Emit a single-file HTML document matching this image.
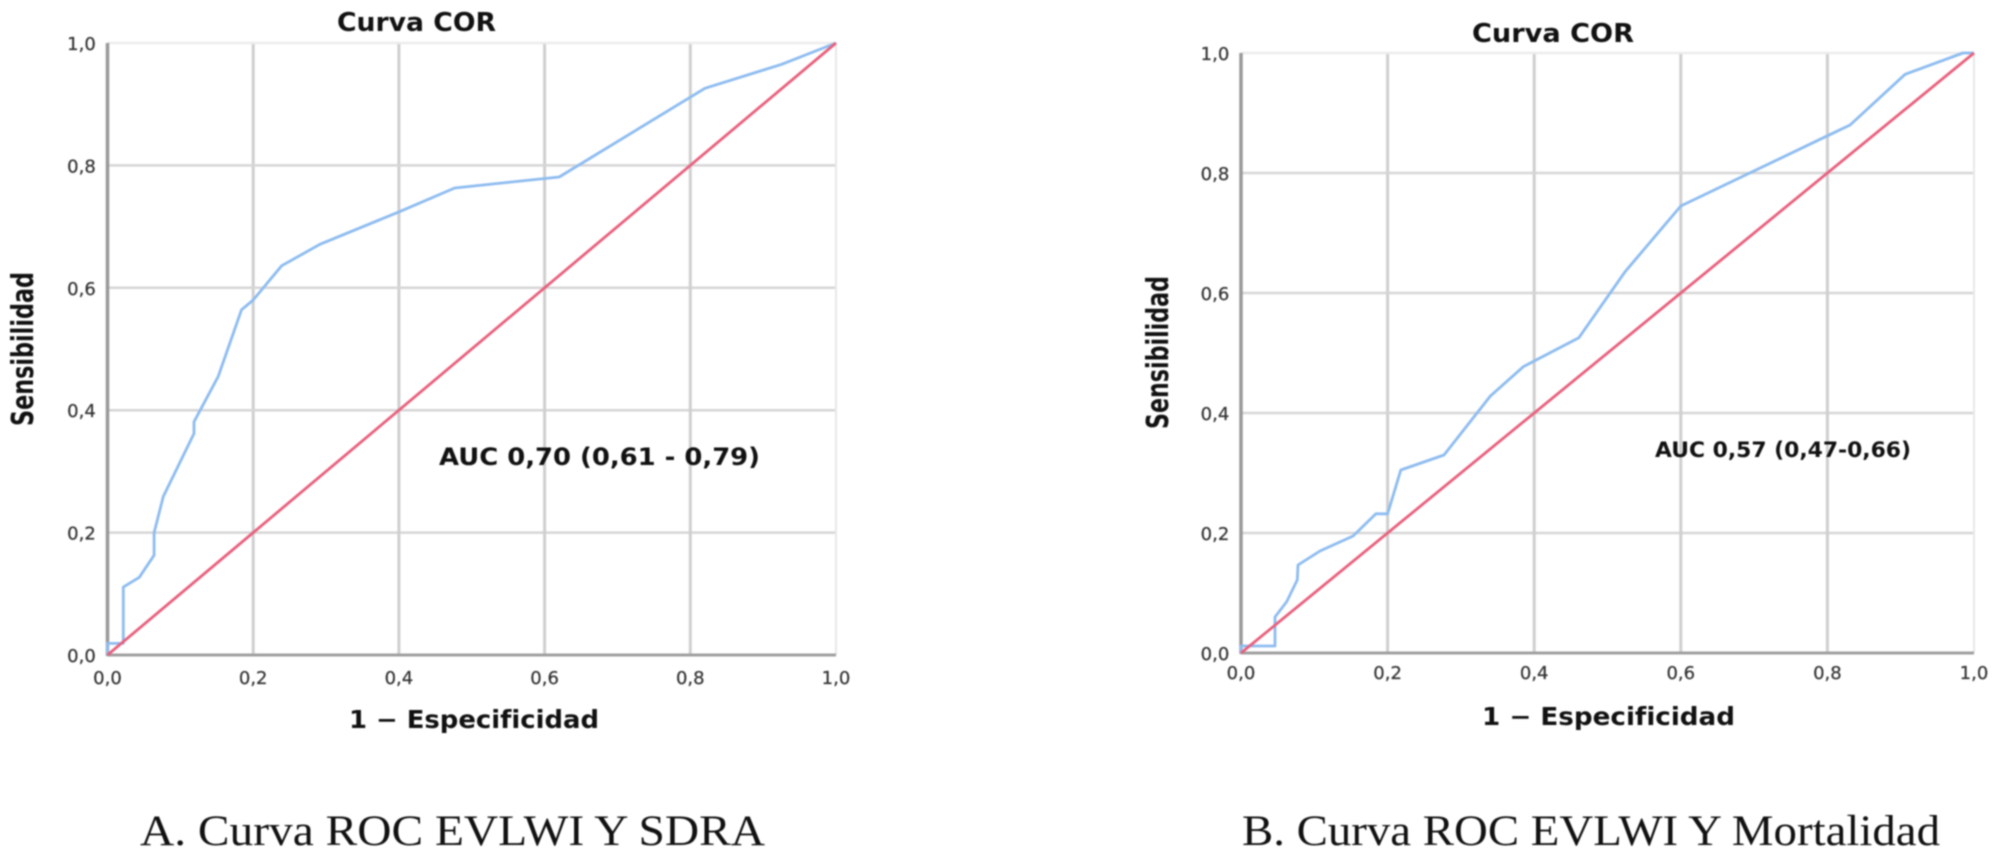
<!DOCTYPE html>
<html lang="es">
<head>
<meta charset="utf-8">
<title>Curvas ROC EVLWI</title>
<style>
  html, body { margin: 0; padding: 0; background: #fff; }
  body { width: 2000px; height: 857px; overflow: hidden; }
  #figure { display: block; filter: blur(0.7px); }
  .title, .axis-title, .auc { font-family: "DejaVu Sans", sans-serif; font-weight: bold; fill: #111; }
  .tick { font-family: "DejaVu Sans", sans-serif; fill: #333; text-anchor: middle; font-size: 18px; stroke: #333; stroke-width: 0.25px; }
  .caption { font-family: "Liberation Serif", serif; fill: #111; font-size: 43px; }
</style>
</head>
<body>
<svg id="figure" xmlns="http://www.w3.org/2000/svg" width="2000" height="857" viewBox="0 0 2000 857">
  <g id="chart-a"></g>
  <g id="chart-b"></g>

  <text class="title" x="337" y="31" font-size="26" textLength="159" lengthAdjust="spacingAndGlyphs">Curva COR</text>
  <text class="title" x="1472" y="42" font-size="26" textLength="162" lengthAdjust="spacingAndGlyphs">Curva COR</text>

  <text class="axis-title" transform="translate(33,426) rotate(-90)" font-size="30" textLength="154" lengthAdjust="spacingAndGlyphs">Sensibilidad</text>
  <text class="axis-title" transform="translate(1168,429) rotate(-90)" font-size="30" textLength="153" lengthAdjust="spacingAndGlyphs">Sensibilidad</text>

  <text class="axis-title" x="349" y="728" font-size="24.5" textLength="250" lengthAdjust="spacingAndGlyphs">1 − Especificidad</text>
  <text class="axis-title" x="1482" y="725" font-size="24.5" textLength="253" lengthAdjust="spacingAndGlyphs">1 − Especificidad</text>

  <text class="auc" x="439" y="465" font-size="24" textLength="321" lengthAdjust="spacingAndGlyphs">AUC 0,70 (0,61 - 0,79)</text>
  <text class="auc" x="1655" y="457" font-size="21" textLength="256" lengthAdjust="spacingAndGlyphs">AUC 0,57 (0,47-0,66)</text>

  <text class="caption" x="140" y="845" textLength="625" lengthAdjust="spacingAndGlyphs">A. Curva ROC EVLWI Y SDRA</text>
  <text class="caption" x="1242" y="845" textLength="698" lengthAdjust="spacingAndGlyphs">B. Curva ROC EVLWI Y Mortalidad</text>
</svg>

<script>
const gridValues = [0, 0.2, 0.4, 0.6, 0.8, 1];
const tickLabels = ["0,0", "0,2", "0,4", "0,6", "0,8", "1,0"];
const diagonalX = [0, 1];
const diagonalY = [0, 1];

const chartAFpr = [0, 0, 0.0217, 0.0217, 0.0436, 0.064, 0.064, 0.0743, 0.0766, 0.1187, 0.1187, 0.152, 0.184, 0.2, 0.239, 0.2915, 0.4, 0.4766, 0.62, 0.82, 0.925, 1];
const chartATpr = [0, 0.019, 0.019, 0.111, 0.127, 0.163, 0.2, 0.248, 0.259, 0.362, 0.381, 0.455, 0.564, 0.58, 0.636, 0.671, 0.724, 0.763, 0.781, 0.926, 0.965, 1];

const chartBFpr = [0, 0, 0.0464, 0.0464, 0.0623, 0.0768, 0.0778, 0.1078, 0.153, 0.184, 0.2, 0.218, 0.277, 0.34, 0.385, 0.461, 0.524, 0.6, 0.694, 0.8, 0.831, 0.906, 0.985, 1];
const chartBTpr = [0, 0.0117, 0.0117, 0.06, 0.0855, 0.122, 0.1467, 0.17, 0.195, 0.232, 0.232, 0.305, 0.33, 0.428, 0.477, 0.5255, 0.6355, 0.745, 0.8, 0.862, 0.88, 0.9645, 1, 1];

const SVG_NS = "http://www.w3.org/2000/svg";

function linearScale(rangeStart, rangeEnd) {
  return function (v) { return rangeStart + v * (rangeEnd - rangeStart); };
}

function toPoints(xs, ys, sx, sy) {
  return xs.map(function (x, i) { return sx(x).toFixed(1) + "," + sy(ys[i]).toFixed(1); }).join(" ");
}

function drawChart(rootId, prefix, frame, fpr, tpr) {
  const root = document.getElementById(rootId);
  const sx = linearScale(frame.left, frame.right);
  const sy = linearScale(frame.bottom, frame.top);

  gridValues.forEach(function (v, i) {
    const isEdge = v === 1;

    const h = document.createElementNS(SVG_NS, "line");
    h.setAttribute("x1", sx(0));
    h.setAttribute("x2", sx(1));
    h.setAttribute("y1", sy(v));
    h.setAttribute("y2", sy(v));
    h.setAttribute("stroke", isEdge ? "#ececec" : "#d6d6d6");
    h.setAttribute("stroke-width", "2.5");
    
    
    root.appendChild(h);

    const w = document.createElementNS(SVG_NS, "line");
    w.setAttribute("x1", sx(v));
    w.setAttribute("x2", sx(v));
    w.setAttribute("y1", sy(0));
    w.setAttribute("y2", sy(1));
    w.setAttribute("stroke", isEdge ? "#e8e8e8" : "#cfcfcf");
    w.setAttribute("stroke-width", isEdge ? "2" : "3");
    
    
    root.appendChild(w);

    const xt = document.createElementNS(SVG_NS, "text");
    xt.setAttribute("class", "tick");
    xt.setAttribute("x", sx(v));
    xt.setAttribute("y", frame.bottom + frame.xTickGap);
    xt.textContent = tickLabels[i];
    
    
    root.appendChild(xt);

    const yt = document.createElementNS(SVG_NS, "text");
    yt.setAttribute("class", "tick");
    yt.setAttribute("x", sx(0) - 26);
    yt.setAttribute("y", sy(v) + 7);
    yt.textContent = tickLabels[i];
    
    
    root.appendChild(yt);
  });

  const yAxis = document.createElementNS(SVG_NS, "line");
  yAxis.setAttribute("x1", sx(0));
  yAxis.setAttribute("x2", sx(0));
  yAxis.setAttribute("y1", sy(0) + 1);
  yAxis.setAttribute("y2", sy(1));
  yAxis.setAttribute("stroke", "#999");
  yAxis.setAttribute("stroke-width", "3.5");
  
  
  root.appendChild(yAxis);

  const xAxis = document.createElementNS(SVG_NS, "line");
  xAxis.setAttribute("x1", sx(0));
  xAxis.setAttribute("x2", sx(1));
  xAxis.setAttribute("y1", sy(0));
  xAxis.setAttribute("y2", sy(0));
  xAxis.setAttribute("stroke", "#a0a0a0");
  xAxis.setAttribute("stroke-width", "3");
  
  
  root.appendChild(xAxis);

  const curve = document.createElementNS(SVG_NS, "polyline");
  curve.setAttribute("points", toPoints(fpr, tpr, sx, sy));
  curve.setAttribute("fill", "none");
  curve.setAttribute("stroke", "#8dbcf0");
  curve.setAttribute("stroke-width", "2.8");
  curve.setAttribute("stroke-linejoin", "round");
  
  
  root.appendChild(curve);

  const diagonal = document.createElementNS(SVG_NS, "polyline");
  diagonal.setAttribute("points", toPoints(diagonalX, diagonalY, sx, sy));
  diagonal.setAttribute("fill", "none");
  diagonal.setAttribute("stroke", "#e9607d");
  diagonal.setAttribute("stroke-width", "2.8");
  
  
  root.appendChild(diagonal);
}

drawChart("chart-a", "chart-a", { left: 107.5, right: 836, top: 43, bottom: 655, xTickGap: 29 }, chartAFpr, chartATpr);
drawChart("chart-b", "chart-b", { left: 1241, right: 1974, top: 53, bottom: 653, xTickGap: 26 }, chartBFpr, chartBTpr);
</script>
</body>
</html>
